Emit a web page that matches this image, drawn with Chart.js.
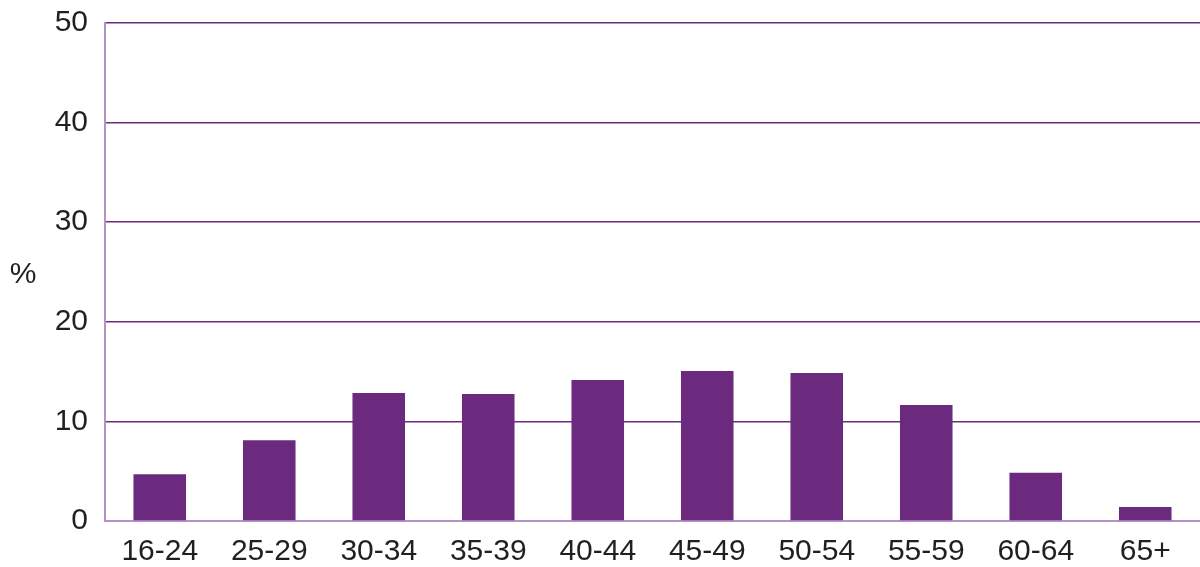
<!DOCTYPE html>
<html>
<head>
<meta charset="utf-8">
<script src="https://cdn.jsdelivr.net/npm/chart.js@4"></script>
<style>
  html, body { margin: 0; padding: 0; background: #fff; }
  #wrap { width: 1200px; height: 567px; }
</style>
</head>
<body>
<div id="wrap"><canvas id="ageChart" width="1200" height="567"></canvas></div>
<script>
// Age groups and share (%) in each
const ageGroups = ['16-24', '25-29', '30-34', '35-39', '40-44', '45-49', '50-54', '55-59', '60-64', '65+'];
const shares = [4.7, 8.1, 12.85, 12.75, 14.15, 15.05, 14.85, 11.65, 4.85, 1.4];
const yTicks = [0, 10, 20, 30, 40, 50];

const barColor = '#6b2a7e';
const gridColor = '#6b2c7c';
const axisColor = '#b592c6';
const textColor = '#231f20';
const fontFamily = '"Liberation Sans", Arial, sans-serif';

// Horizontal "%" unit label left of the axis
const unitLabel = {
    id: 'unitLabel',
    afterDraw(chart) {
        const { ctx, chartArea } = chart;
        ctx.save();
        ctx.font = '30px ' + fontFamily;
        ctx.fillStyle = textColor;
        ctx.textAlign = 'center';
        ctx.textBaseline = 'middle';
        ctx.fillText('%', 23, (chartArea.top + chartArea.bottom) / 2 + 3);
        ctx.restore();
    }
};

const ctx = document.getElementById('ageChart').getContext('2d');
const ageChart = new Chart(ctx, {
    type: 'bar',
    data: {
        labels: ageGroups,
        datasets: [{
            data: shares,
            backgroundColor: barColor,
            barPercentage: 0.48,
            categoryPercentage: 1
        }]
    },
    options: {
        responsive: false,
        animation: false,
        layout: { padding: { top: 23, right: 0, bottom: 0, left: 0 } },
        plugins: {
            legend: { display: false },
            tooltip: { enabled: false }
        },
        scales: {
            x: {
                afterFit(scale) { scale.height = 46; },
                grid: { display: false },
                border: { display: true, color: axisColor, width: 2 },
                ticks: {
                    color: textColor,
                    font: { family: fontFamily, size: 30 },
                    padding: 5,
                    maxRotation: 0
                }
            },
            y: {
                min: 0,
                max: 50,
                afterBuildTicks(scale) {
                    scale.ticks = yTicks.map(v => ({ value: v }));
                },
                afterFit(scale) {
                    scale.width = 105;
                    scale.paddingTop = 0;
                    scale.paddingBottom = 0;
                },
                grid: {
                    color: c => c.tick.value === 0 ? axisColor : gridColor,
                    lineWidth: 1.5,
                    drawTicks: false
                },
                border: { display: true, color: axisColor, width: 2 },
                ticks: {
                    color: textColor,
                    font: { family: fontFamily, size: 30 },
                    padding: 17
                }
            }
        }
    },
    plugins: [unitLabel]
});
</script>
</body>
</html>
